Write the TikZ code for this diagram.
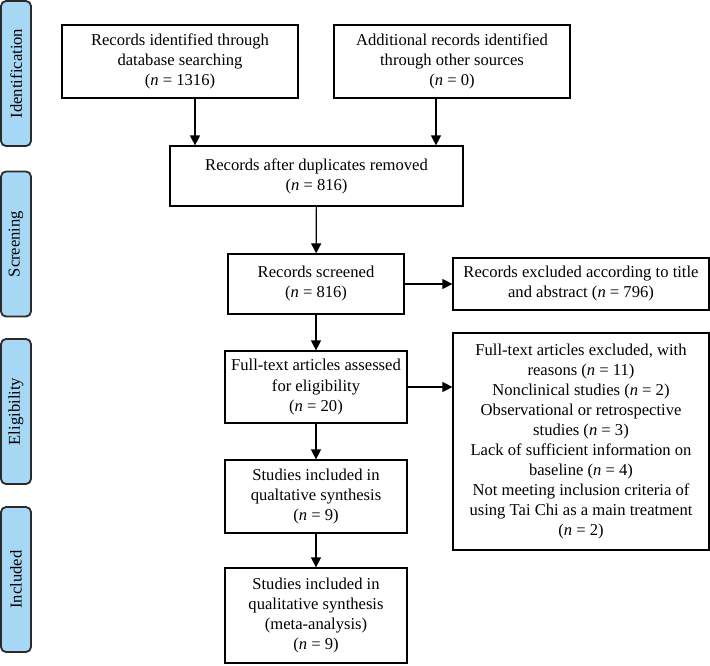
\documentclass[tikz,border=0pt]{standalone}
\usepackage{fontspec}
\setmainfont{Liberation Serif}
\usetikzlibrary{arrows.meta}
\definecolor{phase}{HTML}{A6D8F5}
\definecolor{rim}{HTML}{2B2B2B}
\newcommand{\nn}[1]{(\textit{n} = #1)}
\tikzset{
  box/.style = {draw, line width=1.2pt, align=center, inner sep=2pt,
    font=\fontsize{16.6}{20}\selectfont},
  phasebox/.style = {draw=rim, fill=phase, line width=1.8pt, rounded corners=5pt,
    minimum width=30pt, minimum height=145pt},
  phasetext/.style = {rotate=90, font=\fontsize{16.6}{20}\selectfont},
  arr/.style = {line width=1.2pt, -{Triangle[length=10pt,width=10pt]}}
}
\begin{document}
\begin{tikzpicture}[x=1pt, y=-1pt]
  \useasboundingbox (0,0) rectangle (710,665);
  % phase labels
  \node [phasebox] (ident) at (16, 73.5) {};
  \node [phasetext] at (ident) {Identification};
  \node [phasebox] (screen) at (16, 244) {};
  \node [phasetext] at (screen) {Screening};
  \node [phasebox] (elig) at (16, 411.5) {};
  \node [phasetext] at (elig) {Eligibility};
  \node [phasebox] (incl) at (16, 579.5) {};
  \node [phasetext] at (incl) {Included};
  % boxes
  \node [box, minimum width=236pt, minimum height=73pt] (database) at (180, 61.5)
    {Records identified through\\database searching\\\nn{1316}};
  \node [box, minimum width=236pt, minimum height=73pt] (other) at (452, 61.5)
    {Additional records identified\\through other sources\\\nn{0}};
  \node [box, minimum width=293pt, minimum height=60pt] (dupl) at (316.5, 176)
    {Records after duplicates removed\\\nn{816}};
  \node [box, minimum width=176pt, minimum height=60pt] (screened) at (316, 284)
    {Records screened\\\nn{816}};
  \node [box, minimum width=256pt, minimum height=52pt] (excl) at (581, 284)
    {Records excluded according to title\\and abstract \nn{796}};
  \node [box, minimum width=182pt, minimum height=72pt] (fulltext) at (316, 387)
    {Full-text articles assessed\\for eligibility\\\nn{20}};
  \node [box, minimum width=256pt, minimum height=217pt] (reasons) at (581, 441.5)
    {Full-text articles excluded, with\\reasons \nn{11}\\Nonclinical studies \nn{2}\\
     Observational or retrospective\\studies \nn{3}\\Lack of sufficient information on\\
     baseline \nn{4}\\Not meeting inclusion criteria of\\using Tai Chi as a main treatment\\\nn{2}};
  \node [box, minimum width=182pt, minimum height=73pt] (qual) at (316, 496.5)
    {Studies included in\\qualtative synthesis\\\nn{9}};
  \node [box, minimum width=182pt, minimum height=95pt] (meta) at (316, 615.5)
    {Studies included in\\qualitative synthesis\\(meta-analysis)\\\nn{9}};
  % arrows
  \draw [arr] ([xshift=15pt]database.south) -- ([xshift=15pt]database.south |- dupl.north);
  \draw [arr] ([xshift=-16pt]other.south) -- ([xshift=-16pt]other.south |- dupl.north);
  \draw [arr] (dupl) -- (screened);
  \draw [arr] (screened) -- (excl);
  \draw [arr] (screened) -- (fulltext);
  \draw [arr] (fulltext.east) -- (fulltext.east -| reasons.west);
  \draw [arr] (fulltext) -- (qual);
  \draw [arr] (qual) -- (meta);
\end{tikzpicture}
\end{document}
